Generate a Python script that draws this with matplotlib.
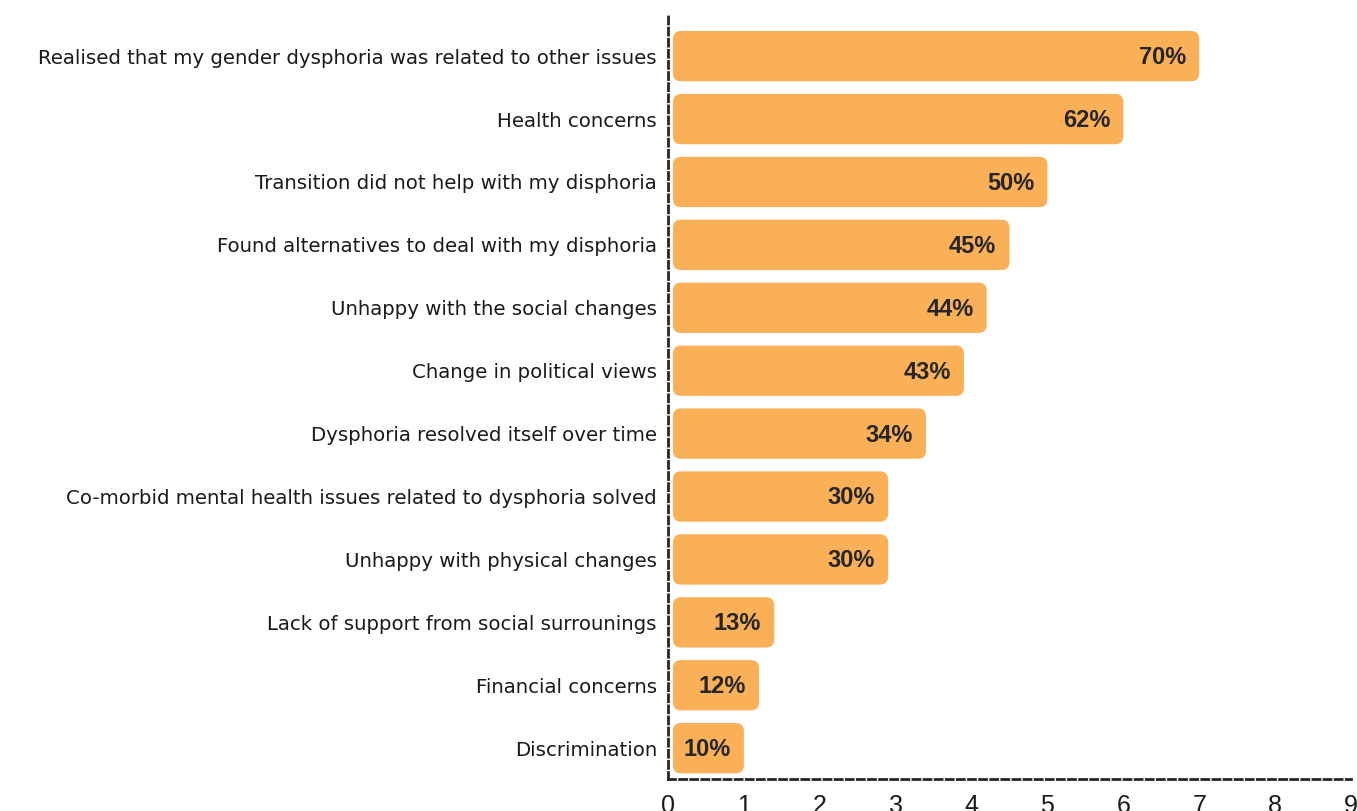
import matplotlib
matplotlib.use("Agg")
import matplotlib.pyplot as plt
from matplotlib.patches import FancyBboxPatch

categories = [
    "Realised that my gender dysphoria was related to other issues",
    "Health concerns",
    "Transition did not help with my disphoria",
    "Found alternatives to deal with my disphoria",
    "Unhappy with the social changes",
    "Change in political views",
    "Dysphoria resolved itself over time",
    "Co-morbid mental health issues related to dysphoria solved",
    "Unhappy with physical changes",
    "Lack of support from social surrounings",
    "Financial concerns",
    "Discrimination",
]
values = [7.0, 6.0, 5.0, 4.5, 4.2, 3.9, 3.4, 2.9, 2.9, 1.4, 1.2, 1.0]
labels = ["70%", "62%", "50%", "45%", "44%", "43%", "34%", "30%", "30%", "13%", "12%", "10%"]
xticks = [0, 1, 2, 3, 4, 5, 6, 7, 8, 9]

BAR = "#F9B057"
DARK = "#262626"

W, H = 1357, 811
fig = plt.figure(figsize=(W / 100, H / 100), dpi=100)
ax = fig.add_axes([668 / W, 1 - 779 / H, (1351 - 668) / W, (779 - 14) / H])

y = list(range(len(categories)))
bars = ax.barh(y, values, height=0.8, color="none", edgecolor="none")
ax.set_xlim(0, 9)
ax.set_ylim(11.49, -0.67)

# pixel scales
xpx = ax.get_position().width * W / 9
ypx = ax.get_position().height * H / (11.49 + 0.67)
gap = 5 / xpx
r_x = 8 / xpx
aspect = (8 / ypx) / r_x

for b in bars:
    x0, y0, w, h = b.get_x(), b.get_y(), b.get_width(), b.get_height()
    p = FancyBboxPatch((x0 + gap, y0), w - gap, h,
                       boxstyle=f"round,pad=0,rounding_size={r_x}",
                       mutation_aspect=aspect, facecolor=BAR, edgecolor="none")
    ax.add_patch(p)

for yi, v, lab in zip(y, values, labels):
    ax.annotate(lab, (v, yi), xytext=(-9.5, -1), textcoords="offset points",
                ha="right", va="center", fontsize=17, fontweight="bold",
                color=DARK, family="Liberation Sans")

ax.set_yticks(y)
ax.set_yticklabels(categories, fontsize=14.2, color="#1a1a1a", family="DejaVu Sans")
ax.set_xticks(xticks)
ax.set_xticklabels([str(t) for t in xticks], fontsize=18, color="#1a1a1a", family="Liberation Sans")
ax.tick_params(axis="both", length=0)
ax.tick_params(axis="y", pad=8)
ax.tick_params(axis="x", pad=11)

for s in ["top", "right"]:
    ax.spines[s].set_visible(False)
for s in ["left", "bottom"]:
    ax.spines[s].set_linestyle((0, (2.5, 1.5)))
    ax.spines[s].set_linewidth(2)
    ax.spines[s].set_color(DARK)

fig.savefig("out.png", dpi=100)
